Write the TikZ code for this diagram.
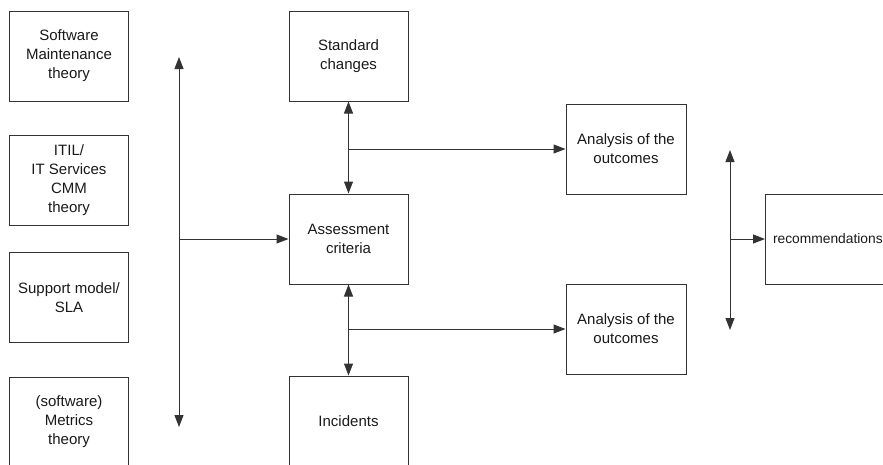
\documentclass[tikz,border=0pt]{standalone}
\usepackage{fontspec}
\setmainfont{Liberation Sans}
\usetikzlibrary{arrows.meta}

\tikzset{
  box/.style={draw=black!80, line width=1pt, minimum width=119pt, minimum height=90pt,
              inner sep=0pt, align=center, text=black!90,
              font=\fontsize{15}{19}\selectfont},
  tip/.tip={Triangle[length=12pt,width=9pt]},
  link/.style={draw=black!80, line width=1pt, -tip},
  dlink/.style={draw=black!80, line width=1pt, tip-tip}
}

\begin{document}
\begin{tikzpicture}[x=1pt, y=-1pt]
  \useasboundingbox (0,0) rectangle (883,464);
  \clip (0,0) rectangle (883,464);

  % theory inputs
  \node[box] (sm)   at (69,56)    {Software\\Maintenance\\theory};
  \node[box] (itil) at (69,180)   {ITIL/\\IT Services\\CMM\\theory};
  \node[box] (sla)  at (69,297.5) {Support model/\\SLA};
  \node[box] (met)  at (69,422)   {(software)\\Metrics\\theory};

  % central column
  \node[box] (std)    at (348.5,56)  {Standard\\changes};
  \node[box] (assess) at (348.5,239) {Assessment\\criteria};
  \node[box] (inc)    at (348.5,421) {Incidents};

  % analysis
  \node[box, minimum width=120pt] (an1) at (626,149) {Analysis of the\\outcomes};
  \node[box, minimum width=120pt] (an2) at (626,329) {Analysis of the\\outcomes};

  % result
  \node[box, text width=104pt, inner xsep=7pt, align=left, anchor=west,
        font=\fontsize{13.8}{17}\selectfont] (rec) at (765,239) {recommendations};

  % left bus collecting the theories
  \coordinate (busT) at (179,57);
  \coordinate (busB) at (179,427);
  \draw[dlink] (busB) -- (busT);
  \draw[link] (busT |- assess) -- (assess.west);

  % links between the central boxes and the analyses
  \draw[dlink] (std.south) -- (assess.north);
  \draw[link] (std.south |- an1) -- (an1.west);
  \draw[dlink] (assess.south) -- (inc.north);
  \draw[link] (assess.south |- an2) -- (an2.west);

  % right bus feeding the recommendations
  \coordinate (rbT) at (730,150);
  \coordinate (rbB) at (730,330);
  \draw[dlink] (rbB) -- (rbT);
  \draw[link] (rbT |- rec) -- (rec.west);
\end{tikzpicture}
\end{document}
